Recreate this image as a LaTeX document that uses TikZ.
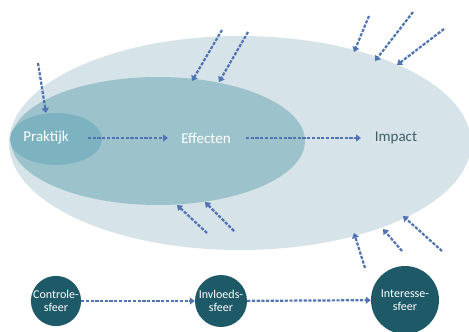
\documentclass[tikz,border=0pt]{standalone}
\usepackage{fontspec}
\setmainfont{Carlito}
\usetikzlibrary{arrows.meta}
\definecolor{outerc}{HTML}{D6E3E8}
\definecolor{midc}{HTML}{9CC3CB}
\definecolor{innerc}{HTML}{7DB3C0}
\definecolor{darkc}{HTML}{1E5968}
\definecolor{arrc}{HTML}{4F73B3}
\definecolor{txtc}{HTML}{3F5D69}
\tikzset{
  flow/.style={draw=arrc, line width=2.2pt, dash pattern=on 3.2pt off 1.5pt, -{Triangle[length=5pt,width=7pt]}},
  lbl/.style={font=\fontsize{15}{17}\selectfont, text=white},
  sphere/.style={circle, fill=darkc, text=white, align=center, inner sep=0pt, font=\fontsize{12}{12.5}\selectfont},
}
\begin{document}
\begin{tikzpicture}[x=1pt,y=-1pt]
\useasboundingbox (0,0) rectangle (469,332);
\fill[outerc] (240,143) ellipse [x radius=231, y radius=107];
\fill[midc] (158,141) ellipse [x radius=147, y radius=64];
\fill[innerc] (56,139) ellipse [x radius=46, y radius=26];
\node[lbl] (prak) at (46,138) {Praktijk};
\node[lbl] (eff) at (206,138) {Effecten};
\node[lbl, text=txtc] (imp) at (396,138) {Impact};
\coordinate (p1) at (88,138); \coordinate (p2) at (168,138);
\coordinate (p3) at (246,138); \coordinate (p4) at (361,138);
\draw[flow] (p1) -- (p2);
\draw[flow] (p3) -- (p4);
% inbound arrows
\coordinate (s1) at (38,63); \coordinate (e1) at (46,113);
\draw[flow] (s1) -- (e1);
\coordinate (s2) at (222,30); \coordinate (e2) at (192,81);
\draw[flow] (s2) -- (e2);
\coordinate (s3) at (248,32); \coordinate (e3) at (219,82);
\draw[flow] (s3) -- (e3);
\coordinate (s4) at (369,16); \coordinate (e4) at (354,52);
\draw[flow] (s4) -- (e4);
\coordinate (s5) at (413,12); \coordinate (e5) at (375,61);
\draw[flow] (s5) -- (e5);
\coordinate (s6) at (444,29); \coordinate (e6) at (397,65);
\draw[flow] (s6) -- (e6);
\coordinate (s7) at (207,233); \coordinate (e7) at (177,205);
\draw[flow] (s7) -- (e7);
\coordinate (s8) at (234,231); \coordinate (e8) at (205,202);
\draw[flow] (s8) -- (e8);
\coordinate (s9) at (365,268); \coordinate (e9) at (354,233);
\draw[flow] (s9) -- (e9);
\coordinate (s10) at (402,251); \coordinate (e10) at (383,229);
\draw[flow] (s10) -- (e10);
\coordinate (s11) at (442,251); \coordinate (e11) at (403,216);
\draw[flow] (s11) -- (e11);
% bottom spheres
\node[sphere, minimum size=48pt] (con) at (56,301) {Controle-\\sfeer};
\node[sphere, minimum size=52pt] (inv) at (221,301) {Invloeds-\\sfeer};
\node[sphere, minimum size=68pt] (int) at (405,300) {Interesse-\\sfeer};
\draw[flow] (con) -- (inv);
\draw[flow] (inv) -- (int);
\end{tikzpicture}
\end{document}
